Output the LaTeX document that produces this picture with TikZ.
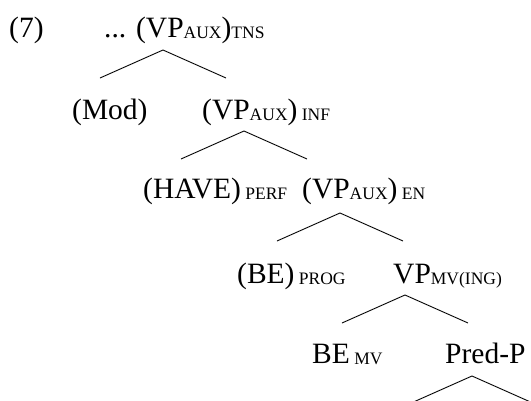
\documentclass[tikz,border=0pt]{standalone}
\usepackage{fontspec}
\setmainfont{Liberation Serif}
\usepackage{tikz}

% smaller capitals set a little below the line
\newcommand{\lbl}[1]{\raisebox{-1pt}{\fontsize{17.5}{19}\selectfont #1}}

\begin{document}
\begin{tikzpicture}[x=1pt, y=-1pt, every node/.style={inner sep=0pt, anchor=base west, font=\fontsize{29.5}{34}\selectfont}]
	\clip (0,0) rectangle (531,400);
	\node (ex) at (9,37) {(7)};
	\node (tns) at (104,37) {... (VP\lbl{AUX})\lbl{TNS}};
	\node (mod) at (72,119) {(Mod)};
	\node (inf) at (202,119) {(VP\lbl{AUX})\lbl{ INF}};
	\node (perf) at (143,198) {(HAVE)\lbl{ PERF}};
	\node (en) at (302,198) {(VP\lbl{AUX})\lbl{ EN}};
	\node (prog) at (237,283) {(BE)\lbl{ PROG}};
	\node (ing) at (393,283) {VP\lbl{MV(ING)}};
	\node (mv) at (312,363) {BE\lbl{ MV}};
	\node (pred) at (445,363) {Pred-P};
	% branches: apex, then left and right daughters
	\foreach \n/\x/\y in {1/163/50, 2/244/131, 3/340/213, 4/405/295, 5/472/376} {
		\coordinate (a\n) at (\x,\y);
		\coordinate (l\n) at (\x-63,\y+28);
		\coordinate (r\n) at (\x+63,\y+28);
		\draw [line width=0.9pt] (l\n) -- (a\n) -- (r\n);
	}
\end{tikzpicture}
\end{document}
